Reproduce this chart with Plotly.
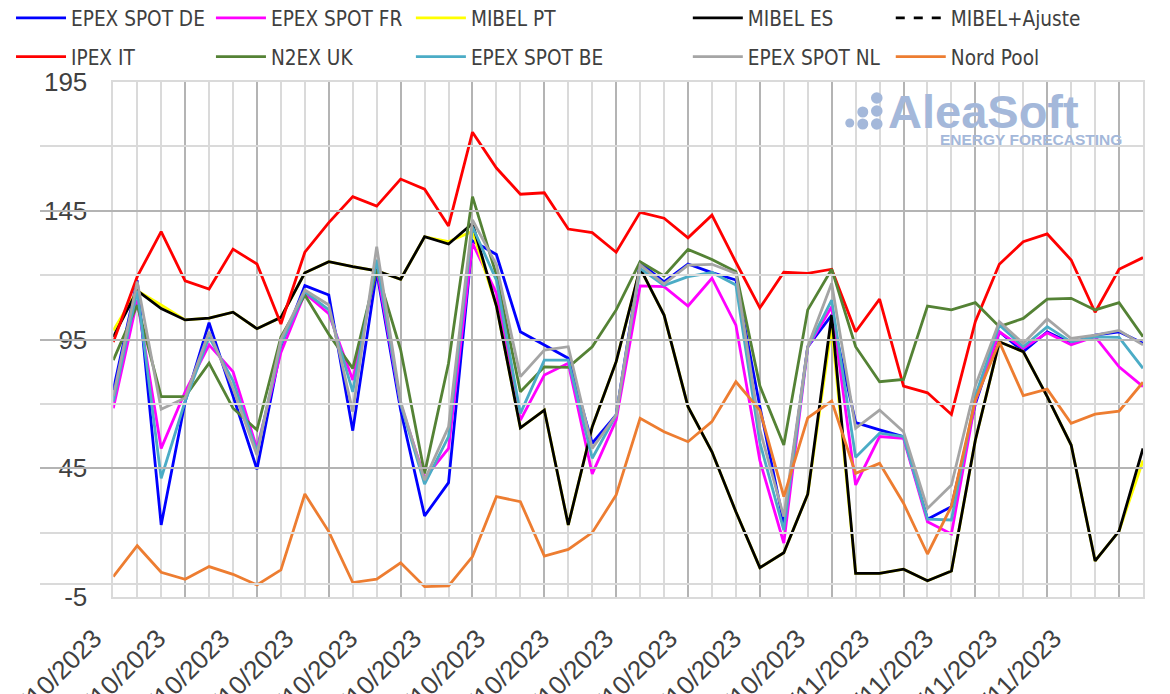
import plotly.graph_objects as go

# The page shows the figure with an 8 px body margin, so the figure is drawn
# 8 px smaller and every target pixel position below is in page coordinates.
OFF = 8
W, H = 1170 - OFF, 694 - OFF

# ---------------- data ----------------
days = list(range(44))

epex_de = [75.4, 118, 23, 70.8, 101.5, 72.8, 44.6, 92, 115.9, 112.3, 59.6, 121.3, 67.6, 26.5, 39.4,
           133.3, 128, 98, 92.9, 87.7, 54.7, 65.7, 124.8, 117.4, 124.3, 121, 118.1, 69, 23.6, 92.2,
           104.5, 62.7, 59.9, 57.3, 25.2, 30.1, 70, 98, 90.3, 98, 93.5, 96.7, 98, 93.5]
epex_fr = [68.3, 110.3, 52.7, 74.7, 92.9, 82.5, 52.7, 90, 113, 105, 79.3, 123, 70, 41.1, 52.7,
           132.4, 113, 63.7, 81.2, 85.8, 42.8, 63.7, 115.8, 115.5, 108, 118.8, 100.6, 48, 15.9, 92,
           107.7, 38.5, 57.3, 56.6, 24.2, 19.5, 71, 98, 91.6, 97.6, 93, 96.1, 84.4, 76.7]
mibel_pt = [98.5, 114, 108.4, 102.6, 103.3, 105.6, 99.2, 103.6, 120.9, 125.2, 123.3, 121.7, 118.4, 134.9, 133,
            137, 108, 60.7, 67.6, 23, 61.1, 86.4, 122.7, 104.5, 68.9, 51.4, 28.1, 6.4, 12.2, 34.9,
            100, 4.2, 4.2, 5.8, 1.3, 5.1, 56, 94.1, 90.3, 72.8, 54, 9, 20.6, 48]
mibel_es = [96, 114, 107, 102.6, 103.3, 105.6, 99.2, 103.6, 120.9, 125.2, 123.3, 121.7, 118.4, 134.9, 132.1,
            140.1, 108, 60.7, 67.6, 23, 61.1, 86.4, 122.7, 104.5, 68.9, 51.4, 28.1, 6.4, 12.2, 34.9,
            104.5, 4.2, 4.2, 5.8, 1.3, 5.1, 56, 94.1, 90.3, 72.8, 54, 9, 20.6, 52.7]
mibel_ajuste = [None] * len(days)  # no values in this period (legend entry only)
ipex_it = [94, 119.4, 136.9, 117.8, 114.6, 130.1, 124.3, 101, 128.9, 140.4, 150.5, 146.8, 157.3, 153.4, 139.1,
           175.5, 161.6, 151.4, 152, 137.9, 136.5, 128.9, 144.4, 142.1, 134.5, 143.3, 125, 107.3, 121.1, 120.7,
           122.3, 98, 110.7, 76.9, 74.3, 65.9, 102, 124.2, 133, 136, 125.9, 105.6, 122.3, 126.8]
n2ex_uk = [87, 108.4, 72.8, 72.8, 85.8, 68.3, 59.9, 96, 112.3, 97, 83.8, 122, 91, 43, 85.8,
           150.5, 120, 74.7, 84.4, 84.2, 92.2, 106.5, 125.2, 119.7, 130, 126.1, 121.3, 77, 54, 106.5,
           122.3, 92.2, 78.6, 79.5, 108, 106.5, 109.3, 100, 103.2, 110.7, 111, 106.5, 109.3, 96.1]
epex_be = [70.8, 114, 41.1, 71, 96, 79, 51.4, 93, 113.6, 106.5, 74.7, 126, 70, 38.8, 57.3,
           138.8, 118, 66.3, 87, 87, 48.9, 65.7, 122.6, 116, 119.4, 121, 116.2, 55, 21, 92,
           110.3, 49.3, 58.6, 57.3, 25.2, 24.9, 73, 100.6, 92.2, 100, 94.1, 96, 95.8, 83.8]
epex_nl = [73, 117.5, 67.9, 72.3, 98, 76, 50.1, 95, 114.2, 108.4, 67, 131, 70.9, 40.4, 61.1,
           141.4, 124, 80.6, 90.9, 92.2, 52.7, 65.7, 124, 116.6, 123.9, 124.2, 120.7, 60, 26.2, 92.2,
           116.8, 60.5, 67.6, 59.2, 29.4, 38.5, 77, 101.9, 93.5, 103, 95.4, 96.7, 98.5, 92.9]
nord_pool = [2.9, 14.9, 4.6, 1.9, 6.8, 3.8, -0.3, 5.5, 35, 20.4, 0.6, 1.9, 8.3, -1, -0.7,
             10.7, 34, 32, 10.9, 13.5, 20, 34.6, 64.4, 59.2, 55.3, 63.1, 78.6, 67.6, 34, 64.6,
             71.1, 43, 46.9, 31.4, 11.7, 30.3, 71.5, 94.1, 73.2, 75.7, 62.5, 66, 67.2, 78.4]

date_labels = ["02/10/2023", "04/10/2023", "07/10/2023", "09/10/2023", "12/10/2023", "14/10/2023",
               "17/10/2023", "19/10/2023", "22/10/2023", "24/10/2023", "27/10/2023", "30/10/2023",
               "01/11/2023", "04/11/2023", "06/11/2023", "09/11/2023"]
y_tick_values = [-5, 45, 95, 145, 195]
y_tick_labels = ["-5", "45", "95", "145", "195"]

series_names = ["EPEX SPOT DE", "EPEX SPOT FR", "MIBEL PT", "MIBEL ES", "MIBEL+Ajuste",
                "IPEX IT", "N2EX UK", "EPEX SPOT BE", "EPEX SPOT NL", "Nord Pool"]
series_values = [epex_de, epex_fr, mibel_pt, mibel_es, mibel_ajuste,
                 ipex_it, n2ex_uk, epex_be, epex_nl, nord_pool]
series_colors = ["#0000FF", "#FF00FF", "#FFFF00", "#000000", "#000000",
                 "#FF0000", "#548235", "#4BACC6", "#A5A5A5", "#ED7D31"]
series_dash = ["solid", "solid", "solid", "solid", "dash",
               "solid", "solid", "solid", "solid", "solid"]

# ---------------- layout geometry (page pixels) ----------------
PLOT_LEFT, PLOT_RIGHT, PLOT_TOP, PLOT_BOTTOM = 113.3, 1143.3, 82, 597
LABEL_AXIS_LEFT = 40
ML = LABEL_AXIS_LEFT - OFF
MR = W - (PLOT_RIGHT - OFF)
MT = PLOT_TOP - OFF
MB = H - (PLOT_BOTTOM - OFF)
PW = W - ML - MR
PH = H - MT - MB


def px_x(px):
    return (px - OFF - ML) / PW


def px_y(py):
    return 1 - (py - OFF - MT) / PH


TXT = "#404040"
MAJOR = "#B4B4B4"
MINOR = "#DADADA"
LEG_FONT = dict(family="Liberation Sans Narrow, DejaVu Sans Condensed, Arial Narrow, sans-serif",
                size=20.6, color=TXT)
TICK_FONT = dict(family="Liberation Sans, Arial, sans-serif", size=26, color=TXT)

legend_ids = ["legend", "legend2", "legend3", "legend4", "legend5"]
legend_cols_px = [20, 220, 420, 697, 900]

fig = go.Figure()
for i, (name, vals, col, dash) in enumerate(zip(series_names, series_values, series_colors, series_dash)):
    fig.add_trace(go.Scatter(
        x=days, y=vals, mode="lines", name=name,
        line=dict(color=col, width=2.8, dash=dash),
        legend=legend_ids[i % 5], legendgroup=name,
        hoverinfo="skip",
    ))
# carrier for the date-label axis
fig.add_trace(go.Scatter(x=[None], y=[None], xaxis="x2", yaxis="y", mode="lines",
                         showlegend=False, hoverinfo="skip"))

legend_common = dict(orientation="v", xref="paper", yref="paper", xanchor="left", yanchor="top",
                     font=LEG_FONT, bgcolor="rgba(0,0,0,0)", borderwidth=0, tracegroupgap=9,
                     itemwidth=50, traceorder="grouped")
for lid, cx in zip(legend_ids, legend_cols_px):
    fig.update_layout(**{lid: dict(x=px_x(cx - 9), y=px_y(-2), **legend_common)})

LAB_A = -0.844
fig.update_layout(
    template="none",
    width=W, height=H,
    margin=dict(l=ML, r=MR, t=MT, b=MB, pad=0, autoexpand=False),
    paper_bgcolor="white", plot_bgcolor="rgba(0,0,0,0)",
    showlegend=True,
    xaxis=dict(domain=[px_x(PLOT_LEFT), 1], range=[0, len(days) - 1], tick0=0, dtick=3,
               showticklabels=False, ticks="", showgrid=True, gridcolor=MAJOR, gridwidth=1.5,
               minor=dict(dtick=1, tick0=0, showgrid=True, gridcolor=MINOR, gridwidth=1.5),
               zeroline=False, showline=True, linecolor=MINOR, linewidth=1.5, mirror=True,
               automargin=False),
    xaxis2=dict(anchor="y", domain=[0, 1], range=[LAB_A, LAB_A + PW / 64.0],
                tickmode="array", tickvals=list(range(len(date_labels))), ticktext=date_labels,
                tickangle=-45, tickfont=TICK_FONT, showgrid=False, zeroline=False,
                showline=False, ticks="", ticklabelstandoff=20, ticklabeloverflow="allow",
                automargin=False),
    yaxis=dict(anchor="x", range=[-5, 195], tickmode="array", tickvals=y_tick_values,
               ticktext=y_tick_labels, tickfont=TICK_FONT,
               showgrid=True, gridcolor=MAJOR, gridwidth=1.5,
               minor=dict(dtick=25, tick0=-5, showgrid=True, gridcolor=MINOR, gridwidth=1.5),
               zeroline=True, zerolinecolor=MINOR, zerolinewidth=1.5,
               showline=True, linecolor=MINOR, linewidth=1.5, mirror=True,
               ticks="", ticklabelstandoff=19, automargin=False),
)

# ---------------- AleaSoft watermark ----------------
LOGO = "#A4B8DA"
fig.add_annotation(xref="paper", yref="paper", x=px_x(886), y=px_y(112), xanchor="left", yanchor="middle",
                   text="<b>AleaSoft</b>", showarrow=False,
                   font=dict(family="Liberation Sans, Arial, sans-serif", size=47, color=LOGO))
fig.add_annotation(xref="paper", yref="paper", x=px_x(1124), y=px_y(139), xanchor="right", yanchor="middle",
                   text="<b>ENERGY FORECASTING</b>", showarrow=False,
                   font=dict(family="Liberation Sans, Arial, sans-serif", size=15.5, color=LOGO))
logo_dots = [(850, 123, 4.5), (863, 112, 5.5), (863, 124, 5.5), (877, 98, 5.8), (877, 111, 5.8), (877, 124, 5.8)]
for dx, dy, r in logo_dots:
    fig.add_shape(type="circle", xref="paper", yref="paper", xsizemode="pixel", ysizemode="pixel",
                  xanchor=px_x(dx), yanchor=px_y(dy), x0=-r, x1=r, y0=-r, y1=r,
                  fillcolor=LOGO, line=dict(width=0), layer="above")

fig.write_html("out.html")
